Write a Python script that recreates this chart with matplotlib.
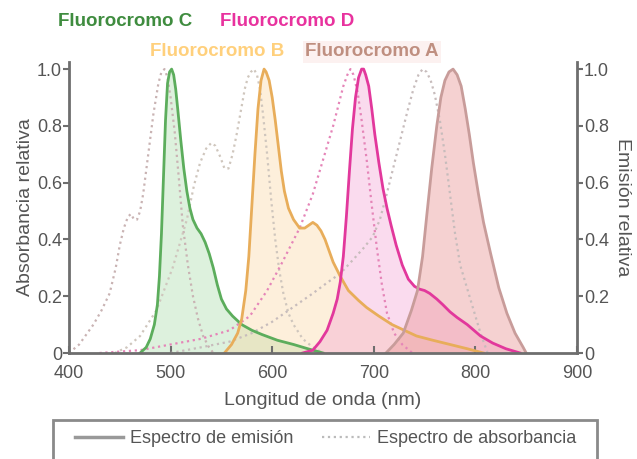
import numpy as np
import matplotlib
matplotlib.use("Agg")
import matplotlib.pyplot as plt
from matplotlib.lines import Line2D
from matplotlib.patches import Rectangle

plt.rcParams['font.family'] = ['Liberation Sans', 'DejaVu Sans']

# --- data (wavelength nm, relative value) ---
c_abs_x = [400, 410, 418, 424, 432, 440, 446, 450, 454, 458, 461, 464, 467, 470, 473, 478, 483, 488, 491, 494, 497, 500, 504, 508, 512, 517, 522, 527, 532, 537, 542]
c_abs_y = [0.0, 0.03, 0.07, 0.10, 0.15, 0.21, 0.30, 0.38, 0.44, 0.48, 0.49, 0.47, 0.47, 0.50, 0.56, 0.70, 0.84, 0.95, 0.99, 1.0, 0.97, 0.90, 0.78, 0.62, 0.45, 0.31, 0.20, 0.12, 0.06, 0.025, 0.0]

c_em_x = [470, 476, 480, 484, 487, 489, 491, 493, 495, 497, 499, 501, 503, 505, 507, 510, 513, 516, 519, 522, 526, 530, 534, 538, 542, 546, 550, 555, 561, 570, 580, 590, 605, 621, 635, 650]
c_em_y = [0.0, 0.02, 0.05, 0.10, 0.17, 0.27, 0.42, 0.62, 0.82, 0.95, 0.99, 1.0, 0.98, 0.93, 0.86, 0.75, 0.65, 0.57, 0.51, 0.47, 0.44, 0.42, 0.39, 0.35, 0.30, 0.24, 0.19, 0.155, 0.13, 0.10, 0.08, 0.065, 0.045, 0.03, 0.015, 0.0]

b_abs_x = [445, 457, 470, 486, 502, 516, 523, 529, 535, 540, 544, 549, 553, 557, 561, 565, 569, 573, 576, 579, 582, 585, 588, 591, 595, 599, 603, 607, 611, 616, 621, 630, 640, 650]
b_abs_y = [0.0, 0.02, 0.06, 0.15, 0.30, 0.47, 0.59, 0.67, 0.72, 0.74, 0.73, 0.69, 0.65, 0.65, 0.70, 0.77, 0.85, 0.93, 0.97, 0.99, 1.0, 0.98, 0.93, 0.84, 0.70, 0.54, 0.40, 0.29, 0.21, 0.14, 0.10, 0.05, 0.02, 0.0]

b_em_x = [553, 560, 566, 570, 574, 577, 580, 583, 586, 589, 592, 594, 597, 600, 603, 606, 609, 612, 616, 621, 627, 632, 636, 640, 644, 648, 652, 656, 660, 667, 675, 685, 693, 705, 718, 730, 742, 758, 775, 792, 808]
b_em_y = [0.0, 0.03, 0.07, 0.12, 0.22, 0.34, 0.52, 0.70, 0.86, 0.96, 1.0, 0.99, 0.96, 0.90, 0.82, 0.73, 0.64, 0.57, 0.51, 0.47, 0.44, 0.44, 0.45, 0.46, 0.45, 0.43, 0.40, 0.36, 0.32, 0.27, 0.22, 0.185, 0.16, 0.13, 0.10, 0.08, 0.06, 0.045, 0.03, 0.015, 0.0]

d_abs_x = [430, 470, 500, 530, 558, 578, 595, 610, 627, 640, 650, 660, 665, 670, 674, 677, 680, 684, 688, 693, 698, 703, 708, 713, 720, 728, 738]
d_abs_y = [0.0, 0.01, 0.03, 0.05, 0.08, 0.13, 0.22, 0.32, 0.44, 0.56, 0.68, 0.80, 0.87, 0.94, 0.98, 1.0, 0.98, 0.92, 0.82, 0.68, 0.52, 0.37, 0.24, 0.14, 0.07, 0.03, 0.0]

d_em_x = [630, 640, 647, 654, 660, 664, 667, 670, 673, 676, 679, 682, 685, 688, 690, 692, 695, 698, 701, 705, 709, 713, 717, 722, 728, 734, 740, 745, 750, 755, 762, 768, 775, 782, 792, 805, 817, 830, 844]
d_em_y = [0.0, 0.01, 0.04, 0.08, 0.14, 0.19, 0.25, 0.34, 0.48, 0.64, 0.79, 0.90, 0.97, 1.0, 1.0, 0.98, 0.94, 0.86, 0.77, 0.67, 0.58, 0.51, 0.45, 0.38, 0.31, 0.26, 0.235, 0.225, 0.22, 0.21, 0.19, 0.17, 0.145, 0.125, 0.10, 0.06, 0.035, 0.015, 0.0]

a_abs_x = [500, 530, 558, 580, 600, 620, 640, 655, 667, 680, 690, 699, 706, 712, 719, 726, 733, 739, 744, 748, 752, 756, 760, 765, 770, 775, 780, 785, 795, 805, 812]
a_abs_y = [0.0, 0.02, 0.04, 0.07, 0.11, 0.16, 0.21, 0.25, 0.28, 0.33, 0.37, 0.41, 0.47, 0.55, 0.65, 0.75, 0.85, 0.93, 0.98, 1.0, 0.99, 0.96, 0.91, 0.82, 0.70, 0.56, 0.42, 0.31, 0.19, 0.07, 0.0]

a_em_x = [712, 720, 729, 737, 743, 748, 752, 757, 762, 766, 770, 774, 778, 782, 786, 790, 794, 798, 803, 808, 815, 823, 831, 839, 847, 850]
a_em_y = [0.0, 0.03, 0.07, 0.15, 0.22, 0.34, 0.48, 0.65, 0.80, 0.90, 0.96, 0.99, 1.0, 0.98, 0.94, 0.86, 0.77, 0.67, 0.56, 0.46, 0.35, 0.23, 0.14, 0.07, 0.02, 0.0]

x_ticks = [400, 500, 600, 700, 800, 900]
y_ticks = [0, 0.2, 0.4, 0.6, 0.8, 1.0]
y_labels = ['0', '0.2', '0.4', '0.6', '0.8', '1.0']

grey = '#6e6e6e'
txt = '#555555'

fig = plt.figure(figsize=(6.37, 4.59), dpi=100)
ax = fig.add_axes([69/637, 1-353/459, 508/637, 291/459])

# fills first
ax.fill_between(c_em_x, c_em_y, color='#9ad69a', alpha=0.33, lw=0)
ax.fill_between(b_em_x, b_em_y, color='#fbd29a', alpha=0.35, lw=0)
ax.fill_between(d_em_x, d_em_y, color='#f39ad0', alpha=0.35, lw=0)
ax.fill_between(a_em_x, a_em_y, color='#eb9a9a', alpha=0.45, lw=0)

# absorbance (dotted)
ax.plot(c_abs_x, c_abs_y, ls=':', lw=1.6, color='#c9b3b3')
ax.plot(b_abs_x, b_abs_y, ls=':', lw=1.6, color='#cfc6bd')
ax.plot(d_abs_x, d_abs_y, ls=':', lw=1.6, color='#e585b8')
ax.plot(a_abs_x, a_abs_y, ls=':', lw=1.6, color='#c7bcbc')

# emission (solid)
ax.plot(c_em_x, c_em_y, color='#5cad5c', lw=2, solid_joinstyle='round')
ax.plot(b_em_x, b_em_y, color='#e8ad5a', lw=2, solid_joinstyle='round')
ax.plot(d_em_x, d_em_y, color='#e2389c', lw=2, solid_joinstyle='round')
ax.plot(a_em_x, a_em_y, color='#c89c9a', lw=2, solid_joinstyle='round')

ax.set_xlim(400, 900)
ax.set_ylim(0, 1.025)
ax.set_xticks(x_ticks)
ax.set_yticks(y_ticks)
ax.set_yticklabels(y_labels)
ax.spines['top'].set_visible(False)
for s in ['left', 'right', 'bottom']:
    ax.spines[s].set_color(grey)
    ax.spines[s].set_linewidth(2)
ax.tick_params(axis='y', direction='out', length=4, width=1.5, color=grey, labelcolor=txt, labelsize=13, pad=1)
ax.tick_params(axis='x', direction='in', length=5, width=1.5, color=grey, labelcolor=txt, labelsize=13, pad=9)
ax.set_xlabel('Longitud de onda (nm)', fontsize=14, color=txt, labelpad=7)
ax.set_ylabel('Absorbancia relativa', fontsize=14, color=txt, labelpad=2)

ax2 = ax.twinx()
ax2.set_ylim(0, 1.025)
ax2.set_yticks(y_ticks)
ax2.set_yticklabels(y_labels)
for s in ['left', 'right', 'bottom', 'top']:
    ax2.spines[s].set_visible(False)
ax2.tick_params(axis='y', direction='out', length=4, width=1.5, color=grey, labelcolor=txt, labelsize=13, pad=1)
ax2.set_ylabel('Emisión relativa', fontsize=14, color=txt, rotation=-90, labelpad=16)

# fluorochrome names
fs = 13.5
fig.text(58/637, 1-22/459, 'Fluorocromo C', color='#3f8c3f', fontsize=fs, fontweight='bold', va='center')
fig.text(220/637, 1-22/459, 'Fluorocromo D', color='#e8329e', fontsize=fs, fontweight='bold', va='center')
fig.text(150/637, 1-52/459, 'Fluorocromo B', color='#ffd07c', fontsize=fs, fontweight='bold', va='center')
fig.text(305/637, 1-52/459, 'Fluorocromo A', color='#bf8f80', fontsize=fs, fontweight='bold', va='center',
         bbox=dict(facecolor='#fcf1f0', edgecolor='none', pad=1.5))

# legend: frameless entries plus a box that runs off the bottom edge
handles = [Line2D([], [], color='#999999', lw=2.5),
           Line2D([], [], color='#bbbbbb', lw=1.6, ls=':')]
leg = fig.legend(handles, ['Espectro de emisión', 'Espectro de absorbancia'],
                 loc='upper left', bbox_to_anchor=(75/637, 1-430/459),
                 ncol=2, fontsize=13, frameon=False,
                 handlelength=2.65, handletextpad=0.4, columnspacing=1.6,
                 borderaxespad=0, borderpad=0, labelcolor=txt)
fig.patches.append(Rectangle((53/637, -0.05), 544/637, 0.05 + 1 - 420/459,
                             transform=fig.transFigure, fill=False,
                             edgecolor='#8a8a8a', lw=2))

fig.savefig('out.png', dpi=100)
